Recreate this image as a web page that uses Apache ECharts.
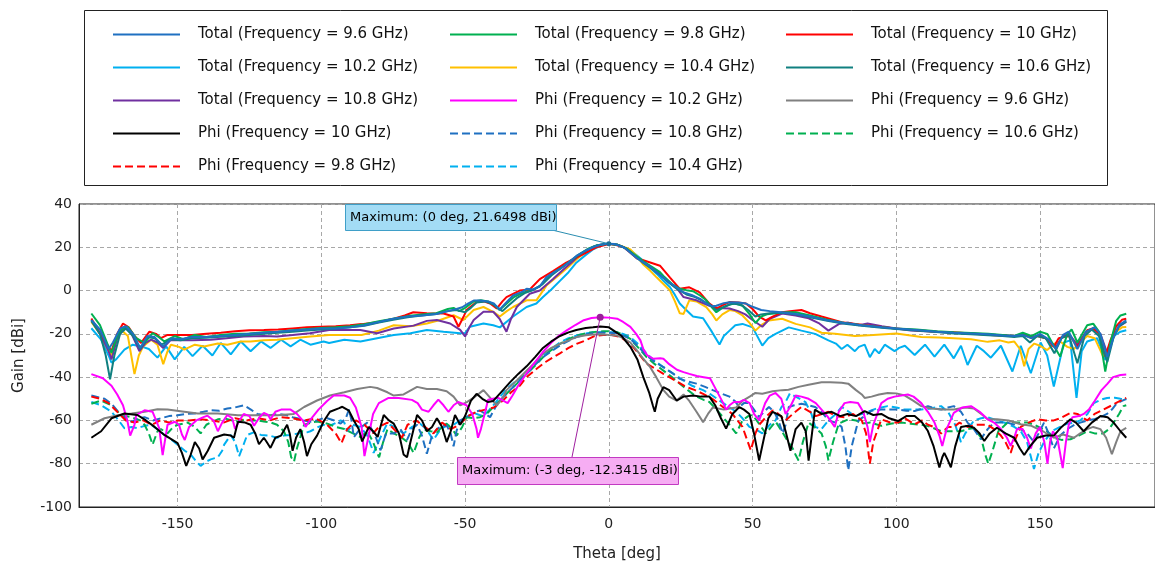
<!DOCTYPE html>
<html><head><meta charset="utf-8">
<script src="https://cdn.jsdelivr.net/npm/echarts@6/dist/echarts.min.js"></script>
<style>html,body{margin:0;padding:0;background:#fff}#c{width:1155px;height:567px}</style>
</head><body><div id="c"></div>
<script>
const X_TICKS = [-150,-100,-50,0,50,100,150];
const PEAK_TOTAL = [0, 21.6498];
const PEAK_PHI = [-3, -12.3415];
const LABEL_TOTAL = 'Maximum: (0 deg, 21.6498 dBi)';
const LABEL_PHI = 'Maximum: (-3 deg, -12.3415 dBi)';

const TOTAL_96 = [[-180,-13.6],[-177,-18],[-174,-27],[-172.5,-24],[-170,-17.5],[-168,-16.5],[-165.5,-20],[-163,-26.5],[-160.5,-21],[-158,-21.5],[-155,-25.8],[-152,-22],[-149,-22.5],[-145,-21.5],[-140,-21.5],[-135,-21],[-130,-20.5],[-125,-20],[-120,-19.5],[-115,-19],[-110,-18.5],[-105,-18],[-100,-17.5],[-95,-17.5],[-90,-17],[-85,-16],[-80,-14.5],[-75,-13],[-70,-12],[-65,-11.5],[-60,-10.8],[-56,-9.5],[-53,-8.5],[-51,-7.7],[-49,-6],[-47,-4.6],[-44.8,-4.6],[-42,-5],[-40,-6],[-38,-8.8],[-36,-6],[-33.3,-2.3],[-30,-0.5],[-28.6,0.8],[-26.3,0.5],[-24,2],[-21.7,6.2],[-19,8.5],[-17,10],[-14,13],[-11.3,16],[-8,18.5],[-5.5,20],[-3,21.2],[0,21.65],[2,21.5],[5.2,20],[7.5,17.5],[9.8,15],[12,13],[14.4,11],[17,8],[19,6],[21.3,3.5],[23.6,1.5],[25.9,-0.8],[29.3,-2.3],[32,-4],[33.9,-6],[36,-7.2],[37.4,-7],[40,-5.8],[42,-5.4],[45,-5.5],[47.7,-6],[50,-7.5],[53,-9],[56,-9.5],[60,-10],[65,-10.8],[70,-12],[76.4,-13.8],[82,-15],[88,-16],[95,-17],[100,-17.5],[107,-18.2],[114.4,-19],[120,-19.5],[126,-19.8],[132,-20.2],[137,-20.8],[141,-21],[144,-20.5],[147,-22],[150,-20],[153,-22.5],[155.5,-27],[158,-20.5],[160,-19],[163,-27],[166,-19],[169,-17],[171,-20],[173.4,-30.7],[175.5,-22],[177.5,-16],[180,-13.8]];
const TOTAL_98 = [[-180,-10.6],[-177,-16],[-174,-26],[-173,-28.8],[-171,-21],[-169.6,-18],[-167.3,-16.7],[-164.4,-22],[-161.5,-24.2],[-158.7,-19.7],[-156.5,-21.5],[-154.6,-23.5],[-151,-21],[-148,-22.5],[-144,-20.5],[-140,-21.5],[-135,-20.5],[-130,-20],[-125,-19.8],[-120,-19.3],[-115,-19],[-110,-18.3],[-105,-17.8],[-100,-17.3],[-95,-17],[-90,-16.5],[-85,-15.5],[-80,-14.2],[-75,-13],[-70,-11.8],[-65,-11],[-60,-10.5],[-56,-8.5],[-54,-8],[-52,-9.5],[-50,-8],[-47,-5],[-44.5,-4.5],[-42,-5],[-40,-6.5],[-38,-9],[-35.5,-6],[-33,-3],[-30,-1],[-27,0],[-24,2],[-21.5,5.5],[-19,8.5],[-16,11],[-13,14],[-10,17],[-7,19.5],[-4,21],[0,21.6],[3,21.2],[6,19.5],[9,16.5],[12,13.5],[15,11],[17.8,8.5],[19,6.8],[22,3],[24.7,0.8],[27,0.2],[29.3,-0.3],[32,-2.5],[33.9,-4.5],[36,-8],[37.4,-10],[39.5,-8],[42,-6.5],[44,-6],[46.5,-7],[49,-11],[51,-15],[53,-12],[55,-11],[58,-10.5],[62,-10],[65,-10],[70,-11.5],[76,-13.5],[82,-15],[88,-16],[95,-17],[100,-17.5],[107,-18],[114,-18.8],[120,-19.3],[126,-19.6],[132,-20],[137,-20.5],[141,-21],[144,-19.5],[147,-21],[150,-19],[152.5,-20],[155,-26],[157,-30.5],[159.5,-20],[161,-18],[163,-24],[166.4,-16],[168.5,-15.3],[170.5,-19],[172.7,-37.4],[174.5,-24],[176.5,-14],[178,-11.5],[180,-10.7]];
const TOTAL_10 = [[-180,-12.9],[-177,-19.7],[-174,-26],[-173,-28],[-171,-20],[-169,-15.2],[-167,-17],[-165,-21],[-162.7,-24.2],[-159.8,-19],[-157.5,-20],[-155.8,-22],[-153.5,-20.5],[-150,-20.5],[-145,-20.5],[-140,-20],[-135,-19.5],[-130,-18.8],[-125,-18.3],[-120,-18.2],[-115,-18],[-110,-17.5],[-105,-17],[-100,-16.7],[-95,-16.5],[-90,-16],[-86,-15.5],[-80,-14.5],[-74.8,-13],[-71,-11.5],[-68,-10],[-63.3,-10.5],[-57.5,-10.6],[-54,-12],[-52.3,-16.7],[-50.5,-12],[-49.5,-9],[-46,-5.3],[-43.5,-5],[-41.3,-6],[-39,-8.3],[-37,-5],[-35.6,-3],[-31,0],[-27.5,0.5],[-24,5.3],[-19.4,9],[-14.8,12.9],[-9,16.7],[-4.4,20],[0,21.5],[2,21.3],[5.2,20],[7.5,17.5],[9.8,14.8],[12,14],[14.4,13],[17.8,11.5],[21.3,6],[24.7,0.8],[28,1.5],[31.6,-0.8],[35,-6],[37.4,-8.3],[40,-6.5],[42,-5.3],[45,-5.5],[47.7,-6],[50,-8.5],[52.3,-12],[54.6,-13.8],[57,-12],[60.3,-10],[63,-9.5],[67,-9],[70,-10.5],[74,-12],[81,-14.6],[88,-15.8],[95,-16.8],[100,-17.5],[107,-18.3],[114.4,-19],[120,-19.3],[126,-19.8],[134,-20.6],[141,-21],[145,-20.5],[147,-21.5],[149,-21],[152,-22],[154.8,-26],[156.5,-22],[158.3,-21.5],[160.5,-21],[163,-26],[166.4,-18.3],[168.5,-17.5],[170.5,-20],[172.7,-30.5],[174.5,-23],[176.5,-16.5],[178.5,-13.5],[180,-13]];
const TOTAL_102 = [[-180,-17.4],[-176.6,-22.7],[-174,-30],[-173,-33.3],[-171.4,-31.8],[-168.5,-27.3],[-165.6,-25],[-162.7,-25.8],[-160,-27],[-157,-31],[-154,-25.8],[-151,-31.8],[-147.7,-26],[-144.8,-30.3],[-141.3,-25.5],[-137.9,-30],[-135,-24.2],[-131.5,-29.5],[-128,-23.5],[-124.6,-28],[-121,-23.5],[-117.7,-26.5],[-114,-22.7],[-110.7,-25.8],[-107.3,-22.7],[-103.8,-25],[-99.2,-23.5],[-97.3,-24.2],[-92,-22.7],[-86.4,-23.5],[-80.6,-22],[-74.8,-20.5],[-69,-19.7],[-63.3,-18.2],[-57.5,-19],[-51.7,-19.7],[-50,-19.7],[-48.3,-16.7],[-43.6,-15.2],[-40.2,-16],[-37.9,-17],[-33.3,-12],[-28.6,-7.6],[-25.2,-6],[-22.9,-3],[-20,0.5],[-17,4.5],[-14,8.5],[-11.3,12.9],[-8,16.5],[-5.5,19],[-1.5,21.5],[0,21.6],[2.9,21.2],[5,20],[7.5,18.5],[9.5,16.5],[12,13.8],[14,11],[16.7,7.7],[19,4.5],[21.3,1.5],[23,-2],[24.7,-6],[26.4,-8.3],[29.3,-12],[32.8,-12.8],[35.6,-18.5],[38.5,-24.9],[40,-21],[42,-18.5],[44,-16],[46.5,-15.4],[50,-17],[53.4,-25.4],[55.5,-22],[58,-20],[62.6,-17],[67,-18.5],[71.8,-20],[76.4,-23],[79,-24.5],[81,-27],[83,-25],[85.6,-28],[87,-26],[89,-25],[90.8,-30.8],[92.5,-27],[94,-29],[96,-25],[99.4,-28],[101,-26.5],[103,-25.5],[106.4,-29.8],[110,-25],[113.3,-30.5],[116.7,-25],[120,-31.3],[122.5,-25.5],[124.8,-34.4],[128,-25.5],[130.5,-28],[132.9,-31],[136.4,-25.5],[140.4,-37.4],[143.3,-25.5],[146.8,-38.2],[150.2,-24],[152.5,-30],[154.8,-44.3],[158.3,-24],[160.5,-23],[162.7,-49.6],[164.5,-28],[166.4,-23.5],[169.9,-22],[172.7,-32],[175.6,-21],[178,-19],[180,-18.3]];
const TOTAL_104 = [[-180,-14.5],[-177,-20],[-174,-28],[-173,-30],[-171,-22],[-169.6,-18.2],[-167.3,-21],[-165,-38.6],[-163.5,-30],[-162,-25.8],[-159.2,-22.7],[-157,-25],[-155,-34],[-153.5,-28],[-152.3,-25],[-149.5,-26],[-147.7,-27.3],[-144,-25],[-140.8,-25.8],[-136,-24.5],[-132.7,-25],[-128,-23.5],[-124.6,-23.5],[-120,-23],[-115.4,-22.7],[-110,-22],[-103.8,-21.2],[-97.3,-20.5],[-92,-20.5],[-86,-20.5],[-80,-18.5],[-74.8,-16],[-69,-16.5],[-63.3,-15.2],[-58.7,-13.6],[-54,-11.4],[-50.6,-13.6],[-47,-9],[-43.6,-7.6],[-40.2,-9.8],[-37.9,-12],[-35.5,-9.5],[-33.3,-7.6],[-28.6,-4.5],[-25.2,-4.5],[-21.7,2.3],[-17,7.6],[-14,11],[-11.3,14.4],[-8,18],[-5.5,20],[-2,21.3],[0,21.6],[3,21.2],[5,20.3],[7.5,19],[10,15.5],[12,12],[14.5,9],[16.7,6],[19,3],[21.3,0],[23,-5],[24.7,-10.5],[26,-10.8],[28,-4.5],[30.5,-5],[33.9,-7.6],[36,-11],[37.4,-13.8],[39.5,-11],[42,-9],[44,-9.5],[46.5,-11.5],[49,-15],[51,-18.5],[53,-16],[55.7,-13.8],[60.3,-13],[65,-15.4],[70,-17],[74,-19.5],[78.7,-20],[85.6,-21],[92,-20.5],[100,-19.8],[108.7,-21.4],[115,-21.7],[120,-22],[126,-22.5],[131.8,-23.7],[136,-23],[139,-24],[141,-23.5],[143,-27],[144.5,-35],[146,-27],[148,-24.5],[150,-25.5],[152.5,-27.5],[155,-24.5],[157,-23.5],[159.5,-26],[161.8,-27],[164,-24],[166.4,-21],[169,-22],[172,-30.5],[174,-26],[176.5,-19],[178.5,-17],[180,-16.8]];
const TOTAL_106 = [[-180,-14],[-177,-20],[-175,-30],[-173.5,-41],[-172,-30],[-170,-20],[-168,-17.5],[-165.5,-21],[-163,-27],[-160.5,-21.5],[-158,-22],[-155.5,-25],[-152.5,-22.5],[-149,-23],[-145,-22],[-140,-21.8],[-135,-21.3],[-130,-21],[-125,-20.5],[-120,-20],[-115,-19.5],[-110,-19],[-105,-18.5],[-100,-18],[-95,-17.5],[-90,-17],[-85,-16.3],[-80,-14.8],[-75,-13.5],[-70,-12.3],[-65,-11.5],[-60,-10.8],[-56,-9.5],[-53,-9],[-50,-10],[-48,-8],[-46,-5.5],[-43,-5],[-40,-6.5],[-37,-9.5],[-35,-7],[-32,-3.5],[-29,-1],[-26,0.5],[-23,3],[-20,7],[-17,10],[-14,13],[-11,16],[-8,18.5],[-5,20.5],[-2,21.4],[0,21.6],[3,21.2],[6,19.5],[9,16],[12,12.8],[15,10],[18,7],[21,3.5],[24,0.5],[27,-1.8],[30,-3],[33,-5],[35,-6.5],[37.5,-9],[40,-7.5],[43,-6],[46,-6.5],[48.5,-9],[51,-12],[53,-11],[56,-10.5],[60,-10.3],[65,-11],[70,-12.3],[76,-14],[82,-15.3],[88,-16.3],[95,-17.2],[100,-17.8],[107,-18.5],[114,-19.2],[120,-19.8],[126,-20.2],[132,-20.6],[137,-21],[141,-21.5],[144,-21],[146.5,-24],[149,-21],[152,-22],[155,-29],[157.5,-22],[160,-20.5],[163,-33.6],[165.5,-21],[168,-18],[170.5,-21],[173.4,-33],[175.5,-22],[177.5,-16.5],[180,-14.3]];
const TOTAL_108 = [[-180,-13.6],[-177,-20],[-174,-28],[-173,-31.8],[-171,-22],[-168.5,-16.7],[-166,-20],[-163.3,-28],[-161,-24],[-159.2,-22.7],[-157,-24],[-155,-26.5],[-152.5,-23],[-150,-23],[-145,-23],[-138.5,-22.7],[-133,-22],[-127,-21.2],[-120,-21],[-115.4,-21.2],[-110,-20.5],[-104,-19.7],[-97.3,-18.2],[-92,-18.2],[-86.4,-18.2],[-80.6,-19.7],[-74.8,-17.5],[-67.9,-16.2],[-63.3,-14],[-59.8,-13.6],[-55.2,-15.2],[-51.7,-18.2],[-50,-21.2],[-48.5,-17],[-47,-13.6],[-43.6,-9.8],[-40.2,-9.8],[-38,-13],[-35.6,-19],[-34,-13],[-32,-7.6],[-27.5,-1.5],[-24,0],[-19.4,5.3],[-16,9.5],[-13,13],[-10,16.5],[-7,19],[-4,21],[0,21.6],[3,21.2],[6,19.5],[9,16.3],[12,13.2],[15,10.5],[18,7.3],[21,3.8],[24,0.5],[26,-3],[30.5,-4.5],[35,-7],[38,-8],[42,-8.3],[45,-9.5],[47.5,-11],[50,-13.6],[53.4,-16.7],[56,-13],[60.3,-10.6],[65,-11.5],[69.5,-12.8],[73,-15],[76.4,-18.5],[80,-15.5],[83.3,-14.8],[87,-16],[90,-15.2],[95,-16.5],[100,-17.5],[105,-18.5],[110,-18.8],[115,-19.2],[120,-19.5],[126,-19.8],[132,-20.3],[137,-20.6],[141,-21],[144,-20],[147,-22],[150,-20.5],[153,-23],[155.5,-26],[158,-21],[160,-20],[163,-25],[166,-19],[169,-17],[171,-20],[173.4,-29],[175.5,-21],[177.5,-16.5],[180,-14.5]];

const PHI_102 = [[-180,-38.6],[-176,-40.5],[-173,-44],[-171,-48],[-169,-53],[-167.5,-60],[-166.5,-67],[-165,-62],[-164.4,-57.6],[-161.5,-55.3],[-158.7,-56],[-156.4,-63.6],[-155.2,-76],[-154,-66],[-153.5,-62],[-151,-60.6],[-149.5,-62],[-148.5,-66.5],[-147.5,-69],[-146,-63],[-143.5,-60],[-141,-58.5],[-139.6,-57.8],[-137.5,-60],[-136,-65],[-134.5,-61],[-132.7,-57.5],[-131,-59],[-130,-64],[-128.5,-60],[-127,-57],[-125,-58],[-123.4,-62.5],[-121.5,-58.5],[-120,-56.5],[-118.5,-57.5],[-117.7,-59.5],[-116,-56],[-114,-55],[-112,-55],[-110.7,-55],[-108.5,-57],[-106.5,-60],[-105.5,-63],[-104,-60],[-101,-55],[-98,-51],[-95.7,-48.5],[-92,-48.5],[-90,-49.5],[-88,-54],[-86,-63],[-85,-76.5],[-84,-70],[-82,-57],[-80,-52],[-76.6,-49.6],[-73.1,-49.6],[-68.5,-50.5],[-66.5,-52],[-65,-55],[-62.7,-56],[-61,-53],[-59.3,-50.4],[-57.5,-53],[-55.8,-56],[-54,-53],[-52.4,-51.5],[-49.5,-53],[-47.5,-57],[-46,-64],[-45.5,-68],[-44.5,-64],[-43,-56],[-42,-50.4],[-38.6,-49.5],[-35.2,-52],[-33.5,-48.5],[-31.7,-44.3],[-29,-39],[-26,-33.6],[-23,-28.5],[-20.2,-24.4],[-17.5,-21],[-14.5,-18.3],[-11.5,-15.8],[-8.7,-13.7],[-6,-12.7],[-3,-12.34],[0,-12.5],[2.9,-13],[5,-14.5],[7.5,-16.8],[9.5,-20],[11,-23],[12,-27],[13.3,-29.8],[15.5,-31.5],[17.9,-31.3],[19,-31.5],[21,-34],[23.7,-36.6],[26,-37.7],[28,-38.5],[30.6,-39.5],[33,-40],[35.2,-40.5],[37.4,-46],[39.8,-52],[40.8,-55],[42,-53],[43.5,-51.5],[45.4,-51.5],[47,-50.5],[49,-52],[50.5,-57],[52.3,-60],[54.4,-52],[56,-48.5],[58,-47.3],[60,-50],[61.5,-57],[63,-54],[65,-48.5],[67,-49],[69.5,-50],[72,-52],[74,-55],[76,-58],[78.6,-63],[80,-56],[82,-52],[84,-51.5],[86.7,-52],[88.5,-56],[90,-63],[90.8,-70],[92,-62],[94.8,-52],[97,-50],[99.4,-49],[104,-48],[106,-49],[108.7,-52],[111,-56],[113.3,-61],[115,-67],[116,-71.8],[117.5,-64],[120,-56.5],[123,-54],[126,-53.4],[129,-56],[131.8,-59.5],[134,-61],[136.4,-64],[138.5,-68],[139.8,-71.8],[141,-68],[142,-64],[144,-64],[145.5,-68],[146.8,-73],[148.5,-66],[150,-63],[151.5,-70],[152.6,-80],[153.5,-70],[154.5,-65],[156,-68],[157.9,-82],[159,-70],[160,-62],[161.3,-58.5],[163.5,-58],[165.2,-57],[167,-55],[169,-51],[171.4,-46],[173.5,-43],[175.4,-40],[178,-39],[180,-38.8]];
const PHI_96 = [[-180,-62],[-175.4,-59],[-170.8,-57.6],[-166,-56.8],[-161.5,-56],[-157,-54.8],[-153.5,-55],[-147.7,-56],[-143,-56.8],[-136,-56.8],[-129,-57.6],[-122.3,-57.6],[-115.4,-57.6],[-109.6,-57],[-106,-53.8],[-101.5,-50.8],[-97,-48.5],[-92,-47],[-87.5,-45.5],[-83,-44.5],[-80.6,-45],[-77,-47],[-74.8,-48.5],[-71.4,-48],[-66.7,-44.5],[-63.3,-45.5],[-59.8,-45.5],[-56.4,-46.5],[-54,-49],[-51.7,-53],[-49.4,-51.5],[-47,-49.5],[-43.6,-46],[-41.3,-49.5],[-39,-53],[-37,-50],[-35.6,-46],[-32,-41.5],[-28.6,-37],[-25.5,-33],[-22.9,-29.2],[-20,-26.5],[-17,-24.6],[-14,-23],[-11.3,-21.5],[-8,-20.6],[-5.5,-20.3],[-2,-20.2],[0,-20.5],[2.9,-20.8],[5,-22],[7.5,-24],[10,-28],[12,-31.5],[14.4,-35.4],[16.5,-40],[19,-46],[21,-49],[23.6,-50.8],[26,-48],[28,-51],[30.5,-56],[32.8,-60.8],[34.5,-57],[36.2,-54],[40,-55],[44.3,-54],[46.5,-51],[49,-49],[51,-47.3],[53.4,-47.7],[57,-46.5],[60.3,-46],[62.5,-45.8],[66,-44.5],[69.5,-43.5],[74,-42.4],[77,-42.4],[81,-42.6],[83.3,-43],[86,-46],[88,-48],[89,-49.6],[91.4,-49],[94,-48],[97,-47.3],[100,-47.5],[103,-48.5],[106,-51],[108.7,-53.4],[112,-54.5],[116,-55],[120,-55],[124,-54],[127,-54.5],[130,-57.5],[131.8,-59.5],[135,-59.5],[139,-60],[143.3,-61.8],[147,-62.5],[151,-65],[154.8,-68],[158,-66.5],[161.8,-68],[164,-66],[166.4,-64],[168.5,-63],[171,-64],[173,-68],[175,-75.6],[176.5,-70],[178,-65],[180,-63.4]];
const PHI_10 = [[-180,-68],[-176.6,-65],[-173,-59],[-168.5,-56.8],[-164,-57.5],[-161,-60],[-158,-63],[-154.6,-66.7],[-150,-70.5],[-148.5,-75],[-147,-81],[-145.5,-76],[-144,-70],[-142.5,-73],[-141.3,-78],[-139.5,-74],[-137.3,-68],[-133.8,-66.5],[-131.5,-67],[-130.4,-68],[-129,-60.6],[-126.5,-61],[-124.6,-62],[-123,-66],[-121.7,-71],[-120,-68],[-119,-70],[-117.7,-72.7],[-116,-68],[-114,-67],[-111.9,-62],[-111,-66],[-110,-74],[-108.8,-68],[-107.3,-64],[-106,-70],[-105,-76.5],[-103.5,-71],[-101.5,-67],[-99,-60],[-97,-56],[-94,-54.4],[-92.7,-53.7],[-90.4,-55.5],[-88.7,-60],[-87,-64],[-85.8,-69.7],[-84.5,-66],[-83.5,-63],[-82,-65],[-80.4,-67.6],[-78.3,-57.5],[-76.5,-60],[-74.8,-61.5],[-73,-66],[-71.4,-75.7],[-70.2,-77],[-69,-70],[-66.7,-57.5],[-65,-60],[-63.3,-65],[-61.5,-63],[-59.8,-59],[-58,-63],[-56.4,-70],[-55,-65],[-53.5,-57.5],[-51.7,-62],[-50,-58],[-48,-51],[-46,-47.7],[-44,-50],[-42,-51.5],[-40.2,-51],[-37.5,-47],[-34.4,-42.4],[-31.5,-38.5],[-28.6,-35],[-25.5,-30.5],[-22.9,-26.5],[-20,-23.5],[-17,-21],[-14,-19.3],[-11.3,-18.2],[-8,-17.3],[-5.5,-17],[-3,-16.6],[0,-17],[1.7,-18.5],[4.5,-21],[7.5,-26],[10,-32],[12,-40],[14,-47],[15.3,-53],[16,-56],[17,-50],[19,-44.6],[21,-46],[23.6,-50.8],[26,-49],[29.3,-48.5],[32,-49],[35,-49],[37,-53],[39,-59],[40.8,-63.8],[43,-57],[45.4,-53.8],[47,-55],[48.9,-57],[50.5,-66],[52.3,-78.5],[54,-68],[55.5,-59],[57,-56],[60,-58],[61.5,-65],[63.2,-74],[65,-64],[67,-61],[68.5,-65],[69.5,-78.6],[70.5,-68],[71.7,-55],[74,-57],[77.5,-56],[80.5,-58],[83,-57],[86,-58],[89,-55.7],[92,-57.5],[94.8,-57],[97.5,-59],[100.6,-60.3],[103.5,-58],[106.4,-58],[109,-61],[111,-64.9],[113,-72],[115,-81.7],[116,-77],[116.7,-75],[117.8,-78],[119,-81.7],[120.5,-72],[122.5,-63],[125,-62.5],[127,-63.4],[129,-66],[130.6,-69.5],[132.5,-66],[135,-63.4],[138,-66],[141,-68],[143,-73],[144.5,-76],[146.5,-72],[149,-68],[152,-67],[154.8,-67],[157.5,-63],[160.6,-59.5],[162.5,-61],[165.2,-65],[168,-61],[171,-58],[173.5,-58.5],[175.6,-61],[178,-65],[180,-68]];
const PHI_108 = [[-180,-48.5],[-175.4,-50],[-173,-52.3],[-169.6,-57.6],[-166,-60.6],[-163.5,-59],[-161.5,-58.5],[-158.5,-60],[-155.8,-59],[-153,-58],[-150,-57.6],[-147,-57],[-144.2,-56.8],[-141,-56],[-138.5,-55.3],[-135.5,-55.5],[-132.7,-54.5],[-130,-54],[-127,-53],[-124.5,-55],[-122.3,-57],[-120,-57.5],[-117.7,-57.6],[-115,-57],[-112,-57.6],[-110,-58.5],[-108.4,-59],[-106,-60],[-103.8,-60.6],[-101.5,-60],[-99.4,-59],[-97.9,-59],[-95.5,-60],[-93.3,-61.5],[-91.5,-59],[-90.4,-55],[-89.5,-60],[-88.7,-67.7],[-86,-63],[-84,-61],[-82.9,-63],[-81,-68],[-79.4,-73.8],[-77.5,-66],[-74.8,-66],[-72.5,-64],[-70.2,-69],[-68.5,-64],[-66.7,-62],[-65,-67],[-63.3,-75.4],[-61.5,-67],[-59.8,-64],[-58,-62.5],[-56.4,-62.3],[-55,-66],[-54,-72],[-53,-65],[-51.7,-60],[-48.3,-57.7],[-46.5,-56],[-44.8,-55.4],[-43,-57],[-41.3,-58.5],[-39.5,-54],[-37.9,-50.8],[-35.5,-47.5],[-33.3,-44.6],[-31,-41.5],[-28.6,-38.5],[-25.5,-34],[-22.9,-30.8],[-20,-28],[-17,-25.4],[-14,-23.2],[-11.3,-21.5],[-8,-20.3],[-5.5,-19.7],[-3,-19.4],[0,-19.5],[2.9,-19.7],[5,-20.8],[7.5,-22.3],[10,-25.5],[13.2,-30],[16,-33],[19,-35.4],[22,-38],[24.7,-40.8],[27.5,-42],[30.5,-43],[33.5,-44.5],[36.2,-46],[39,-47.5],[42,-49],[43.8,-51],[45.4,-53.8],[47,-52],[48.9,-52],[50.5,-55],[52.3,-58.5],[54,-56],[55.7,-53.8],[57.5,-56],[59,-60],[60.5,-66],[61.5,-62],[62.6,-53.8],[64.5,-53],[67,-52.3],[69.5,-53],[71.8,-53.8],[74,-56],[76.4,-60],[79,-61],[81,-63],[82.3,-72],[83.3,-83],[84.5,-72],[86.8,-60],[89,-58],[91.4,-55.5],[94.8,-55],[97.5,-55],[100.6,-55],[103.5,-55.5],[106.4,-55.7],[109,-54.5],[111,-53.4],[113.5,-54.5],[115.6,-55],[118,-54],[120,-53.4],[122.5,-56],[124.8,-61],[127,-64],[129.4,-68.7],[131.8,-64],[134,-61],[136.5,-61],[138.7,-61],[141,-62],[143.3,-64],[145.5,-66],[147.9,-70],[149.5,-66],[151.4,-61],[153,-66],[154.8,-73],[157,-67],[159.5,-64],[162,-62],[164,-61],[166.5,-60],[168.7,-59.5],[171,-58.5],[173.3,-57],[175,-55],[176.8,-52],[178.5,-51],[180,-50]];
const PHI_106 = [[-180,-52.3],[-176.6,-50.8],[-173,-53],[-169.6,-57.6],[-166,-58.5],[-163,-60],[-161.5,-62],[-160,-66],[-158.7,-71.2],[-157,-65],[-155.8,-64],[-153.5,-66],[-151.5,-63],[-150,-62],[-146.5,-61],[-144,-63],[-142,-66],[-140,-62],[-138.5,-61],[-136,-59.5],[-133.8,-59],[-131,-60],[-129,-60.5],[-126.5,-59.5],[-124.6,-60],[-122,-60],[-120,-60.5],[-117.5,-61],[-115.4,-62],[-113,-65],[-111.5,-70],[-110.5,-77],[-109.5,-79],[-108.5,-73],[-106,-62],[-103.5,-61],[-101.5,-60.5],[-99.5,-61],[-97.9,-61.5],[-95,-63],[-92,-64],[-89,-66],[-86.4,-67.7],[-84,-65],[-82,-70],[-80.6,-75],[-79.9,-77],[-78.5,-70],[-77,-64],[-74.8,-66],[-72.5,-67.5],[-70,-70],[-67.9,-75],[-66,-68],[-64.4,-64],[-62,-65],[-59.8,-65.5],[-58,-63],[-56.4,-61.5],[-54.5,-64],[-52.9,-67],[-51,-63],[-49.4,-58.5],[-47,-59],[-44.8,-58.5],[-42.5,-57],[-40.2,-53.8],[-38,-51],[-35.6,-47.7],[-32,-43],[-28.6,-38.5],[-25.5,-34.5],[-22.9,-30.8],[-20,-27.5],[-17,-24.6],[-14,-22.5],[-11.3,-20.8],[-8,-19.8],[-5.5,-19.2],[-2,-18.8],[0,-18.8],[2.9,-19.2],[5,-20.5],[7.5,-22.3],[10,-26],[13.2,-30.8],[16,-34],[19,-37],[22,-40],[24.7,-43],[27.5,-46],[30.5,-49],[33,-50.5],[35,-51.5],[37.5,-55],[39.7,-58.5],[42,-62],[44.3,-66],[46.5,-60],[48.5,-58],[50,-57.5],[52,-61],[54.6,-66],[56.5,-63],[58,-60.5],[60.2,-65],[62,-69],[64,-73],[65,-76],[66,-78.5],[67.5,-70],[69.5,-61],[71.5,-63],[74,-66],[75.5,-72],[76.4,-78.5],[78,-70],[80,-61.5],[83.3,-59.5],[86,-60],[88,-61.5],[91,-61],[94.8,-62.5],[98,-61.5],[101.7,-61],[105,-61.5],[108.7,-62],[112,-63],[115.6,-65],[119,-65],[122.5,-65],[125,-64],[127,-63.5],[129.5,-68],[131,-76],[132,-80],[133.5,-74],[135.5,-65],[138.7,-61],[142,-61],[145.6,-61],[148,-62],[150.2,-63.5],[152.5,-65],[154.8,-68],[157.5,-69],[160.6,-68.7],[163.5,-67],[166.4,-65],[169,-66],[172,-66],[174,-64],[175.6,-61],[177.5,-57],[179,-53.4],[180,-53]];
const PHI_98 = [[-180,-49],[-177,-50],[-174,-52],[-171,-56],[-168,-60],[-165,-61],[-162,-60],[-159,-62],[-156,-60],[-153,-61],[-150,-60],[-146,-60],[-142,-59.5],[-138,-60],[-134,-61],[-130,-59],[-126,-60],[-122,-59],[-118,-60],[-114,-58.5],[-110,-59],[-106,-60],[-102,-59],[-98,-62],[-95,-66],[-93,-70.5],[-91,-64],[-88,-60],[-85,-62],[-82,-66],[-80,-63],[-77,-61],[-74,-65],[-72,-68],[-70,-62],[-67,-60],[-64,-63],[-61,-66],[-58,-61],[-55,-64],[-52,-62],[-49,-58],[-46,-56],[-43,-55],[-40,-54],[-37,-51],[-34,-47],[-31,-44],[-28.6,-40],[-25,-36],[-22,-33],[-19,-30.5],[-17,-29],[-14,-26.5],[-11,-24.5],[-8,-23],[-5,-21],[-2,-20.5],[1,-20.5],[4,-21.5],[7.5,-24.6],[10,-28.5],[13.2,-33.8],[16,-36],[19,-38.5],[23,-41.5],[27,-44.6],[30,-46],[32.8,-47.7],[36,-50],[39.7,-53.8],[43,-57],[46.5,-63],[49.4,-73.8],[51,-66],[52.3,-62],[55,-58],[57,-55.4],[59,-57],[61.5,-60],[64,-57],[67,-53.8],[70,-56],[72,-58],[76.4,-56],[79,-58],[82,-58.5],[85,-57],[88,-60],[89.5,-66],[90.8,-80],[92,-70],[94.8,-59.5],[98,-61],[100.6,-61],[103,-59],[106.4,-61.8],[109,-60],[111,-62],[113,-63],[115.6,-66],[118,-63],[120,-63],[122,-61],[124.8,-63],[128,-62],[131.8,-62],[134,-64],[136.4,-67],[138,-70],[139.8,-75],[141,-70],[143.3,-63],[146,-61],[149,-59.5],[152,-60],[154.8,-60],[157,-59],[160.6,-56.5],[163,-57],[166.4,-60],[169,-57],[172,-55],[175,-53],[177,-51.5],[180,-49.6]];
const PHI_104 = [[-180,-51.5],[-176.6,-53],[-173,-56],[-170.5,-60],[-168.5,-63.6],[-166,-63],[-164,-63.6],[-161.5,-62.5],[-159.2,-62],[-157,-64],[-154.6,-66.7],[-152,-69],[-150,-71.2],[-147.5,-74],[-145.4,-75.8],[-143.5,-79],[-142,-81],[-140,-79],[-138.5,-78],[-136,-77],[-134.5,-74],[-133.8,-71.2],[-131.5,-66.7],[-130,-70],[-128.6,-76.5],[-127,-71],[-125.8,-66.7],[-123.5,-65.5],[-121,-66.7],[-118,-67],[-115.4,-68],[-113,-67],[-110.7,-66.7],[-108,-66],[-105,-65.5],[-103.8,-65],[-101,-63],[-99.2,-62],[-97.9,-63],[-95.5,-61.5],[-93.3,-60],[-92,-61],[-91,-65],[-89,-62],[-86.4,-63],[-84,-67],[-81.8,-75],[-79.5,-68],[-77.1,-61.5],[-74.5,-63],[-71.4,-66],[-68.5,-63],[-65.6,-61.5],[-63.5,-64],[-61,-69],[-58.5,-64],[-56.4,-62.5],[-54,-62],[-51.7,-60],[-49,-58],[-47,-56.5],[-45,-57.5],[-43.6,-58],[-41.5,-55],[-40.2,-53],[-38,-49.5],[-35.6,-45.4],[-32,-41.5],[-28.6,-38.5],[-25.5,-34],[-22.9,-30],[-20,-27],[-17,-24],[-14,-22],[-11.3,-20.8],[-8,-19.8],[-5.5,-19.2],[-2,-19.2],[0,-19.2],[2.9,-19.2],[5,-20],[7.5,-21.5],[10,-24.5],[13.2,-29.2],[16,-32.5],[19,-35.4],[22.5,-38.5],[25.9,-41.5],[29,-44],[32.8,-46],[35.5,-48],[38.5,-50.8],[41.5,-53.5],[44.3,-56],[46.5,-59],[48.9,-63],[51,-64],[53.4,-66],[56,-62],[58,-60],[60,-54],[61.5,-51.5],[63,-47.5],[65,-49],[68.4,-51.5],[70.5,-57],[71.8,-63],[74,-64],[76.4,-60],[79,-57],[81,-53.8],[83.5,-56],[85.6,-58],[88,-57],[90.2,-56],[93,-54.5],[97,-53.4],[100,-54],[103,-55],[106,-55],[108.7,-55],[112,-54.5],[115.6,-53.4],[118,-56],[120.5,-62],[122.5,-70],[124,-66],[127,-60],[129.5,-59],[131.8,-58.5],[135,-60],[138.7,-61.5],[141,-63],[143.3,-65],[145.5,-70],[147.9,-82.4],[149.5,-75],[151.4,-70],[153,-67],[154.8,-64.5],[157,-63],[159.5,-61.5],[162,-61],[164,-60],[166.5,-57],[168.7,-52],[171,-50.5],[173.3,-49.6],[176,-49.5],[178,-50],[180,-50.4]];

const NAMES = {
  t96:'Total (Frequency = 9.6 GHz)', t98:'Total (Frequency = 9.8 GHz)', t10:'Total (Frequency = 10 GHz)',
  t102:'Total (Frequency = 10.2 GHz)', t104:'Total (Frequency = 10.4 GHz)', t106:'Total (Frequency = 10.6 GHz)',
  t108:'Total (Frequency = 10.8 GHz)', p102:'Phi (Frequency = 10.2 GHz)', p96:'Phi (Frequency = 9.6 GHz)',
  p10:'Phi (Frequency = 10 GHz)', p108:'Phi (Frequency = 10.8 GHz)', p106:'Phi (Frequency = 10.6 GHz)',
  p98:'Phi (Frequency = 9.8 GHz)', p104:'Phi (Frequency = 10.4 GHz)'
};
const LEGEND_COLS = [
  [NAMES.t96, NAMES.t102, NAMES.t108, NAMES.p10, NAMES.p98],
  [NAMES.t98, NAMES.t104, NAMES.p102, NAMES.p108, NAMES.p104],
  [NAMES.t10, NAMES.t106, NAMES.p96, NAMES.p106]
];

const FONT = 'DejaVu Sans';
function mk(name, data, color, dashed) {
  return { type:'line', name, data, symbol:'none', showSymbol:false, silent:true, animation:false,
    lineStyle:{ color, width:2, type: dashed ? [8,4] : 'solid' }, itemStyle:{ color } };
}
const series = [
  mk(NAMES.p104, PHI_104, '#00b0f0', true),
  mk(NAMES.p106, PHI_106, '#00b050', true),
  mk(NAMES.p108, PHI_108, '#1f70c1', true),
  mk(NAMES.p98, PHI_98, '#ff0000', true),
  mk(NAMES.p96, PHI_96, '#808080', false),
  mk(NAMES.p102, PHI_102, '#ff00ff', false),
  mk(NAMES.p10, PHI_10, '#000000', false),
  mk(NAMES.t102, TOTAL_102, '#00b0f0', false),
  mk(NAMES.t104, TOTAL_104, '#ffc000', false),
  mk(NAMES.t108, TOTAL_108, '#7030a0', false),
  mk(NAMES.t10, TOTAL_10, '#ff0000', false),
  mk(NAMES.t98, TOTAL_98, '#00b050', false),
  mk(NAMES.t106, TOTAL_106, '#108080', false),
  mk(NAMES.t96, TOTAL_96, '#1f70c1', false)
];

const LEGEND_LEFT = [112, 449, 785];
const chart = echarts.init(document.getElementById('c'), null, { renderer:'canvas' });
chart.setOption({
  animation:false,
  backgroundColor:'#fff',
  textStyle:{ fontFamily: FONT },
  grid:{ left:79, right:-5, top:204, bottom:59, show:true, borderColor:'#222', borderWidth:1 },
  legend: LEGEND_COLS.map((names, i) => ({
    data:names, orient:'vertical', left:LEGEND_LEFT[i], top:27, itemWidth:67, itemHeight:14, itemGap:18,
    selectedMode:false, padding:0,
    itemStyle:{ opacity:0 },
    lineStyle:{ width:2 },
    textStyle:{ fontFamily:FONT, fontSize:15, color:'#111', lineHeight:14, padding:[0,0,0,13] }
  })),
  xAxis:{ type:'value', min:-184.3, max:190, name:'Theta [deg]', nameLocation:'middle', nameGap:40,
    nameTextStyle:{ fontFamily:FONT, fontSize:15, color:'#222', verticalAlign:'top' },
    axisLine:{ show:true, onZero:false, lineStyle:{ color:'#222', width:1 } },
    axisTick:{ show:false, customValues:X_TICKS },
    axisLabel:{ customValues:X_TICKS, fontFamily:FONT, fontSize:14, color:'#222', margin:10 },
    splitLine:{ show:true, customValues:X_TICKS, lineStyle:{ color:'#a8a8a8', type:[4,3], width:1 } }
  },
  yAxis:{ type:'value', min:-100, max:40, interval:20, name:'Gain [dBi]', nameLocation:'middle', nameGap:52,
    nameTextStyle:{ fontFamily:FONT, fontSize:15, color:'#222' },
    axisLine:{ show:true, onZero:false, lineStyle:{ color:'#222', width:1 } },
    axisTick:{ show:false },
    axisLabel:{ fontFamily:FONT, fontSize:14, color:'#222', margin:7 },
    splitLine:{ show:true, lineStyle:{ color:'#a8a8a8', type:[4,3], width:1 } }
  },
  series
});

const pT = chart.convertToPixel({ xAxisIndex:0, yAxisIndex:0 }, PEAK_TOTAL);
const pP = chart.convertToPixel({ xAxisIndex:0, yAxisIndex:0 }, PEAK_PHI);
chart.setOption({
  graphic:[
    { type:'rect', shape:{ x:84.5, y:10.5, width:1023, height:175 }, style:{ fill:'none', stroke:'#222', lineWidth:1 }, z:100 },
    { type:'line', shape:{ x1:552, y1:230, x2:pT[0], y2:pT[1] }, style:{ stroke:'#2a8db0', lineWidth:1 }, z:100 },
    { type:'circle', shape:{ cx:pT[0], cy:pT[1], r:2.5 }, style:{ fill:'#1a6f9a' }, z:101 },
    { type:'rect', shape:{ x:345.5, y:204.5, width:211, height:26 }, style:{ fill:'#a3dcf5', stroke:'#3f9fc8', lineWidth:1 }, z:102 },
    { type:'text', x:350, y:217.5, style:{ text:LABEL_TOTAL, font:'13px "DejaVu Sans"', fill:'#000', verticalAlign:'middle' }, z:103 },
    { type:'line', shape:{ x1:572, y1:457, x2:pP[0], y2:pP[1] }, style:{ stroke:'#a020a0', lineWidth:1 }, z:100 },
    { type:'circle', shape:{ cx:pP[0], cy:pP[1], r:3.5 }, style:{ fill:'#9a1f9a' }, z:101 },
    { type:'rect', shape:{ x:457.5, y:457.5, width:221, height:27 }, style:{ fill:'#f6adf3', stroke:'#c23ac2', lineWidth:1 }, z:102 },
    { type:'text', x:462, y:471, style:{ text:LABEL_PHI, font:'13px "DejaVu Sans"', fill:'#000', verticalAlign:'middle' }, z:103 }
  ]
});
</script>
</body></html>
